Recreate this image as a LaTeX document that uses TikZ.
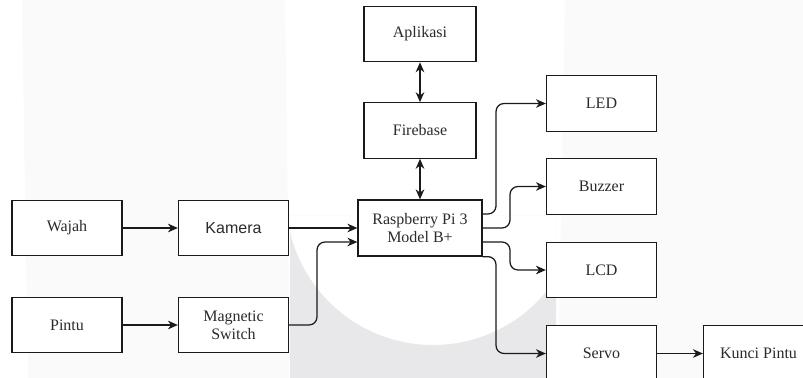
\documentclass[tikz,border=0pt]{standalone}
\usepackage{fontspec}
\setmainfont{Liberation Serif}
\newfontfamily\arialfont{Liberation Sans}
\usetikzlibrary{arrows.meta}
\definecolor{wmlight}{HTML}{FAFAFA}
\definecolor{wmdark}{HTML}{E8E8EA}
\definecolor{garis}{HTML}{1A1A1A}
\definecolor{teks}{HTML}{2B2B2B}
\tikzset{
  blok/.style={draw=garis, line width=0.95pt, fill=white, text=teks, align=center,
    minimum width=82.5pt, minimum height=41.5pt, inner sep=1pt,
    font=\fontsize{12}{13.8}\selectfont},
  panah/.style={draw=garis, line width=0.95pt, rounded corners=6pt, -{Stealth[length=7.5pt,width=6.5pt]}},
  duaarah/.style={draw=garis, line width=0.95pt, {Stealth[length=7.5pt,width=6.5pt]}-{Stealth[length=7.5pt,width=6.5pt]}},
}
\begin{document}
\begin{tikzpicture}[x=0.75pt, y=-0.75pt]
\clip (0,0) rectangle (803,378);
\fill[white] (0,0) rectangle (803,378);
% watermark
\fill[wmlight] (22,0) -- (285,0) -- (290,378) -- (28,378) -- cycle;
\fill[wmlight] (565,0) -- (803,0) -- (803,378) -- (558,378) -- cycle;
\begin{scope}
\clip (290,215) rectangle (556,378);
\fill[wmdark, even odd rule] (290,215) rectangle (556,378) (433,198) circle[radius=147];
\end{scope}

\node[blok] (wajah) at (67,228) {Wajah};
\node[blok, font=\arialfont\fontsize{12}{13.8}\selectfont] (kamera) at (233.5,228) {Kamera};
\node[blok] (pintu) at (67,325) {Pintu};
\node[blok] (magnet) at (233.5,325) {Magnetic\\Switch};
\node[blok, minimum width=93pt, minimum height=42pt] (rpi) at (420,228) {Raspberry Pi 3\\Model B+};
\node[blok, minimum width=84pt] (firebase) at (420,130.5) {Firebase};
\node[blok, minimum width=84pt] (aplikasi) at (420,34) {Aplikasi};
\node[blok] (led) at (601.5,103.5) {LED};
\node[blok] (buzzer) at (601.5,186.5) {Buzzer};
\node[blok] (lcd) at (601.5,270) {LCD};
\node[blok] (servo) at (601.5,353.5) {Servo};
\node[blok] (kunci) at (758.5,353.5) {Kunci Pintu};

\draw[panah] (wajah) -- (kamera);
\draw[panah] (pintu) -- (magnet);
\draw[panah] (kamera) -- (rpi);
\draw[panah] (magnet.east) -| (317,242) -- (rpi.west |- 0,242);
\draw[duaarah] (aplikasi) -- (firebase);
\draw[duaarah] (firebase) -- (rpi);
\draw[panah] (rpi.east |- 0,214) -| (496,103.5) -- (led.west);
\draw[panah] (rpi.east) -| (510,186.5) -- (buzzer.west);
\draw[panah] (rpi.east |- 0,242) -| (510,270) -- (lcd.west);
\draw[panah] (rpi.south east) -| (496,353.5) -- (servo.west);
\draw[panah] (servo) -- (kunci);
\end{tikzpicture}
\end{document}
